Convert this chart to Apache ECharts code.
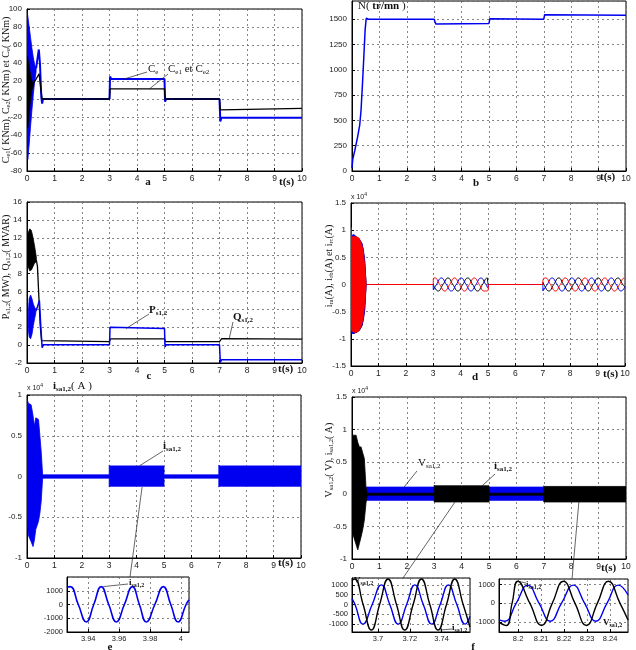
<!DOCTYPE html>
<html><head><meta charset="utf-8">
<script src="https://cdn.jsdelivr.net/npm/echarts@6/dist/echarts.min.js"></script>
<style>html,body{margin:0;padding:0;background:#fff}#c{width:636px;height:650px}</style>
</head><body><div id="c"></div>
<script>
// ================= DATA =================
// panel a : torques (kNm)
const aBlueBandT  = [0, 0.03, 0.08, 0.13, 0.18, 0.23, 0.28, 0.33];
const aBlueBandUp = [97, 92, 80, 68, 56, 46, 38, 34];
const aBlueBandLo = [-45, -67, -50, -30, -12, 5, 20, 30];
const aBlackBandT  = [0, 0.03, 0.08, 0.13, 0.18, 0.23];
const aBlackBandUp = [48, 45, 36, 26, 20, 17];
const aBlackBandLo = [-25, -32, -15, 0, 10, 15];
const aCe   = [[0.33,34],[0.43,55],[0.47,40],[0.52,2],[0.55,-5],[0.58,0],[3,0],[3.02,25],[3.06,22.3],[5,22.3],[5.02,-3],[5.06,0],[7,0],[7.03,-25],[7.07,-20.8],[10,-20.8]];
const aCe12 = [[0.23,17],[0.44,28],[0.5,12],[0.55,0],[3,0],[3.02,11.2],[5,11.2],[5.02,0],[7,0],[7.03,-12],[7.06,-10.4],[10,-10.4]];
// panel b : speed (tr/mn)
const bN = [[0,30],[0.03,120],[0.1,200],[0.2,330],[0.28,450],[0.33,600],[0.38,850],[0.43,1120],[0.48,1400],[0.52,1510],[0.56,1505],[0.6,1500],[3,1500],[3.03,1475],[3.06,1452],[3.1,1458],[5,1458],[5.03,1505],[5.06,1512],[5.1,1500],[7,1500],[7.03,1545],[7.06,1552],[7.1,1538],[10,1538]];
// panel c : powers
const cQBandT  = [0.0, 0.04, 0.1, 0.16, 0.22, 0.28, 0.34];
const cQBandUp = [11, 12.5, 13, 12.8, 12, 11, 9.8];
const cQBandLo = [10, 8.8, 8.3, 8.4, 8.8, 9.2, 9.3];
const cQ = [[0.34,9.5],[0.38,8.8],[0.43,5.5],[0.48,2.2],[0.53,0.5],[0.58,0.4],[3,0.4],[3.03,0.7],[5,0.7],[5.03,0.4],[7,0.4],[7.03,0.6],[7.08,0.72],[10,0.67]];
const cPBandT  = [0.04, 0.08, 0.13, 0.18, 0.23, 0.28, 0.32];
const cPBandUp = [3.2, 5.2, 5.6, 5.2, 4.6, 4.2, 4.0];
const cPBandLo = [2.0, 0.9, 0.7, 1.2, 2.2, 3.0, 3.6];
const cP = [[0.32,3.8],[0.38,4.3],[0.45,5],[0.5,2.2],[0.55,-0.3],[0.6,0.05],[3,0.05],[3.02,2],[3.06,1.85],[5,1.85],[5.02,-0.2],[5.06,0.05],[7,0.05],[7.03,-1.95],[7.07,-1.65],[10,-1.65]];
// panel d : rotor currents (x 10^4 A)
const dBandT     = [0, 0.02, 0.1, 0.2, 0.3, 0.4, 0.45, 0.5, 0.55];
const dRedUp     = [1.05, 0.88, 0.88, 0.88, 0.85, 0.72, 0.6, 0.35, 0.02];
const dRedLo     = [-0.6, -0.85, -0.88, -0.88, -0.85, -0.72, -0.6, -0.35, -0.02];
const dBlackUp   = [0.8, 0.9, 0.9, 0.86, 0.82, 0.74, 0.62, 0.42, 0.02];
const dBlackLo   = [-0.8, -0.88, -0.9, -0.88, -0.85, -0.76, -0.64, -0.45, -0.02];
const dBlueUp    = [0.8, 0.9, 0.92, 0.88, 0.84, 0.76, 0.64, 0.45, 0.02];
const dBlueLo    = [-0.8, -0.9, -0.9, -0.88, -0.84, -0.76, -0.64, -0.48, -0.02];
const dIra = [[0.55,0],[3,0],[3.005,0.11],[3.06,0.12],[3.24,0],[3.42,-0.12],[3.6,0],[3.78,0.12],[3.96,0],[4.14,-0.12],[4.32,0],[4.5,0.12],[4.68,0],[4.86,-0.12],[5,-0.11],[5.02,0],[7,0],[7.005,0.08],[7.1,0.12],[7.28,0],[7.46,-0.12],[7.64,0],[7.82,0.12],[8,0],[8.18,-0.12],[8.36,0],[8.54,0.12],[8.72,0],[8.9,-0.12],[9.08,0],[9.26,0.12],[9.44,0],[9.62,-0.12],[9.8,0],[9.98,0.12],[10,0.12]];
const dIrb = [[0.55,0],[3,0],[3.005,-0.1],[3.12,0],[3.3,0.12],[3.48,0],[3.66,-0.12],[3.84,0],[4.02,0.12],[4.2,0],[4.38,-0.12],[4.56,0],[4.74,0.12],[4.92,0],[5,-0.06],[5.02,0],[7,0],[7.005,-0.12],[7.16,0],[7.34,0.12],[7.52,0],[7.7,-0.12],[7.88,0],[8.06,0.12],[8.24,0],[8.42,-0.12],[8.6,0],[8.78,0.12],[8.96,0],[9.14,-0.12],[9.32,0],[9.5,0.12],[9.68,0],[9.86,-0.12],[10,-0.04]];
const dIrc = [[0.55,0],[3,0],[3.005,0],[3.18,-0.12],[3.36,0],[3.54,0.12],[3.72,0],[3.9,-0.12],[4.08,0],[4.26,0.12],[4.44,0],[4.62,-0.12],[4.8,0],[4.98,0.12],[5,0.12],[5.02,0],[7,0],[7.005,0.04],[7.04,0],[7.22,-0.12],[7.4,0],[7.58,0.12],[7.76,0],[7.94,-0.12],[8.12,0],[8.3,0.12],[8.48,0],[8.66,-0.12],[8.84,0],[9.02,0.12],[9.2,0],[9.38,-0.12],[9.56,0],[9.74,0.12],[9.92,0],[10,-0.05]];
// panel e : stator current envelope (x 10^4 A)
const eBandT  = [0, 0.05, 0.15, 0.22, 0.27, 0.32, 0.42, 0.47, 0.52, 0.57, 3, 3, 3.03, 3.1, 5, 5, 5.03, 7, 7, 7.03, 7.1, 10];
const eBandUp = [0.95, 0.9, 0.88, 0.75, 0.62, 0.72, 0.7, 0.5, 0.3, 0.02, 0.02, 0.14, 0.13, 0.13, 0.13, 0.02, 0.02, 0.02, 0.14, 0.13, 0.13, 0.13];
const eBandLo = [-0.5, -0.72, -0.8, -0.86, -0.78, -0.65, -0.55, -0.45, -0.3, -0.02, -0.02, -0.13, -0.12, -0.12, -0.12, -0.02, -0.02, -0.02, -0.13, -0.12, -0.12, -0.12];
// panel f : stator voltage (blue) and current (black) envelopes (x 10^4)
const fIBandT  = [0, 0.02, 0.15, 0.21, 0.27, 0.33, 0.39, 0.45, 0.51, 0.55, 3, 3, 3.02, 5, 5, 7, 7, 7.02, 10];
const fIBandUp = [0.85, 0.91, 0.91, 0.8, 0.73, 0.73, 0.64, 0.55, 0.11, 0.015, 0.015, 0.14, 0.13, 0.13, 0.015, 0.015, 0.13, 0.12, 0.12];
const fIBandLo = [-0.5, -0.6, -0.78, -0.86, -0.76, -0.66, -0.55, -0.4, -0.14, -0.015, -0.015, -0.12, -0.12, -0.12, -0.015, -0.015, -0.12, -0.12, -0.12];
const fVBandT  = [0.5, 0.52, 3, 3, 5, 5, 7, 7];
const fVBandUp = [0.02, 0.11, 0.11, 0, 0, 0.11, 0.11, 0];
const fVBandLo = [-0.02, -0.095, -0.095, 0, 0, -0.095, -0.095, 0];
// inset e : i_sa1,2 zoom (A)
const eInI = [[3.9263,1250],[3.9284,1300],[3.9336,0],[3.9388,-1270],[3.9436,0],[3.9484,1300],[3.9533,0],[3.9582,-1270],[3.9634,0],[3.9686,1300],[3.9731,0],[3.9776,-1270],[3.9831,0],[3.9886,1300],[3.9934,0],[3.9981,-1270],[4.0033,0],[4.0052,350]];
// inset f left : V (blue) and i (black)
const fLV = [[3.6836,300],[3.6855,0],[3.6905,-1000],[3.6963,0],[3.7021,1000],[3.7074,0],[3.7127,-1000],[3.718,0],[3.7232,1000],[3.7285,0],[3.7338,-1000],[3.7391,0],[3.7443,1000],[3.7496,0],[3.7549,-1000],[3.7579,-600]];
const fLI = [[3.6836,1220],[3.6853,1300],[3.6906,0],[3.6958,-1300],[3.701,0],[3.7063,1300],[3.7116,0],[3.7168,-1300],[3.7221,0],[3.7273,1300],[3.7326,0],[3.7378,-1300],[3.7431,0],[3.7483,1300],[3.7536,0],[3.7579,-1150]];
// inset f right
const fRV = [[8.1917,-900],[8.1942,-970],[8.1992,0],[8.2042,970],[8.2091,0],[8.214,-970],[8.2189,0],[8.224,970],[8.2289,0],[8.2338,-970],[8.2387,0],[8.2436,970],[8.2478,450]];
const fRI = [[8.1917,-1030],[8.1949,-1200],[8.1974,0],[8.1999,1180],[8.2051,0],[8.2102,-1200],[8.2149,0],[8.2197,1180],[8.2247,0],[8.2297,-1200],[8.2345,0],[8.2393,1180],[8.2443,0],[8.2478,-900]];

// ================= CHART =================
const BLUE = '#0000f0', BLACK = '#000', RED = '#ff0000';
const chart = echarts.init(document.getElementById('c'), null, {renderer: 'canvas'});
const grids = [
  {left:27, top:9, width:275, height:162},
  {left:352, top:1, width:274, height:170},
  {left:27, top:202, width:275, height:161},
  {left:351, top:203, width:274, height:163},
  {left:27, top:395, width:274, height:163},
  {left:352, top:397, width:274, height:162},
  {left:67, top:577, width:122, height:55},
  {left:352, top:578, width:118, height:54},
  {left:499, top:579, width:129, height:53}
].map(g => Object.assign({show:true, borderColor:'#000', borderWidth:1, backgroundColor:'#fff', containLabel:false}, g));

const split = {show:true, lineStyle:{type:[2,3], color:'#666', width:0.8}};
const plain = v => String(+(+v).toFixed(4));
const lab = (fs, extra) => Object.assign({fontSize:fs, color:'#222', fontFamily:'Liberation Sans', margin:4, formatter:plain}, extra||{});
function ax(i, o) {
  return Object.assign({type:'value', gridIndex:i, axisLine:{show:true, onZero:false, lineStyle:{color:'#000'}},
    axisTick:{show:true, inside:true, length:3, lineStyle:{color:'#000'}}, splitLine:split}, o);
}
const xLab = lab(8.5, {margin:3});
const yLab = lab(8, {margin:5});
const xAxes = [0,1,2,3,4,5].map(i => ax(i, {min:0, max:10, interval:1, axisLabel:xLab}));
xAxes.push(ax(6, {min:3.9263, max:4.0052, splitNumber:4, axisLabel:lab(7.5, {showMinLabel:false, showMaxLabel:false, margin:3})}));
xAxes.push(ax(7, {min:3.6836, max:3.7579, splitNumber:4, axisLabel:lab(7.5, {showMinLabel:false, showMaxLabel:false, margin:3})}));
xAxes.push(ax(8, {min:8.1917, max:8.2478, splitNumber:5, axisLabel:lab(7.5, {showMinLabel:false, showMaxLabel:false, margin:3})}));
const yAxes = [
  ax(0, {min:-80, max:100, interval:20, axisLabel:yLab}),
  ax(1, {min:0, max:1680, interval:250, axisLabel:lab(8, {margin:5, showMaxLabel:false})}),
  ax(2, {min:-2, max:16, interval:2, axisLabel:yLab}),
  ax(3, {min:-1.5, max:1.5, interval:0.5, axisLabel:yLab}),
  ax(4, {min:-1, max:1, interval:0.5, axisLabel:yLab}),
  ax(5, {min:-1, max:1.5, interval:0.5, axisLabel:yLab}),
  ax(6, {min:-2000, max:2000, interval:1000, axisLabel:lab(7.5, {showMaxLabel:false, margin:4})}),
  ax(7, {min:-1400, max:1350, splitNumber:5, axisLabel:lab(7.5, {showMinLabel:false, showMaxLabel:false, margin:4})}),
  ax(8, {min:-1550, max:1300, splitNumber:3, axisLabel:lab(7.5, {showMinLabel:false, showMaxLabel:false, margin:4})})
];

const series = [];
// envelope of a dense oscillation: filled polygon between upper and lower values
function band(g, T, up, lo, color, z) {
  const data = T.map((t, i) => [t, up[i], lo[i]]);
  series.push({type:'custom', xAxisIndex:g, yAxisIndex:g, data, z, silent:true, clip:true,
    encode:{x:0, y:[1,2]},
    renderItem:(params, api) => {
      if (params.dataIndex !== 0) return null;
      const pts = [];
      for (let i = 0; i < T.length; i++) pts.push(api.coord([T[i], up[i]]));
      for (let i = T.length - 1; i >= 0; i--) pts.push(api.coord([T[i], lo[i]]));
      return {type:'polygon', shape:{points:pts}, style:{fill:color, stroke:color, lineWidth:0.8}};
    }});
}
function line(g, data, color, w, z, smooth) {
  series.push({type:'line', xAxisIndex:g, yAxisIndex:g, data, symbol:'none', smooth:smooth||false, lineStyle:{width:w, color}, z, silent:true});
}
// a
band(0, aBlueBandT, aBlueBandUp, aBlueBandLo, BLUE, 2);
line(0, aCe, BLUE, 2, 3);
band(0, aBlackBandT, aBlackBandUp, aBlackBandLo, BLACK, 4);
line(0, aCe12, BLACK, 1.3, 5);
// b
line(1, bN, BLUE, 1.5, 3);
// c
band(2, cQBandT, cQBandUp, cQBandLo, BLACK, 2);
line(2, cQ, BLACK, 1.3, 3);
band(2, cPBandT, cPBandUp, cPBandLo, BLUE, 4);
line(2, cP, BLUE, 1.5, 5);
// d
band(3, dBandT, dBlackUp, dBlackLo, BLACK, 2);
band(3, dBandT, dBlueUp, dBlueLo, BLUE, 3);
band(3, dBandT, dRedUp, dRedLo, RED, 4);
line(3, dIrc, BLACK, 1, 5, 0.5);
line(3, dIrb, BLUE, 1, 6, 0.5);
line(3, dIra, RED, 1, 7, 0.5);
// e
band(4, eBandT, eBandUp, eBandLo, BLUE, 3);
// f
band(5, fVBandT, fVBandUp, fVBandLo, BLUE, 2);
band(5, fIBandT, fIBandUp, fIBandLo, BLACK, 3);
// insets
line(6, eInI, BLUE, 1.6, 3, 0.5);
line(7, fLV, BLUE, 1.4, 3, 0.5);
line(7, fLI, BLACK, 1.4, 4, 0.5);
line(8, fRV, BLUE, 1.4, 3, 0.5);
line(8, fRI, BLACK, 1.4, 4, 0.5);

chart.setOption({animation:false, backgroundColor:'#fff', grid:grids, xAxis:xAxes, yAxis:yAxes, series});

// ================= ANNOTATIONS =================
const SERIF = 'Liberation Serif';
const RICH = {
  n:{fontFamily:SERIF, fontSize:11, fill:'#111'},
  s:{fontFamily:SERIF, fontSize:7, fill:'#111', padding:[6,0,0,0]},
  t:{fontFamily:SERIF, fontSize:10, fill:'#111'},
  ts:{fontFamily:SERIF, fontSize:6.5, fill:'#111', padding:[5,0,0,0]},
  nb:{fontFamily:SERIF, fontSize:11, fontWeight:'bold', fill:'#111'},
  sb:{fontFamily:SERIF, fontSize:7, fontWeight:'bold', fill:'#111', padding:[6,0,0,0]},
  m:{fontFamily:SERIF, fontSize:9, fontWeight:'bold', fill:'#111'},
  ms:{fontFamily:SERIF, fontSize:6, fontWeight:'bold', fill:'#111', padding:[5,0,0,0]},
  x:{fontFamily:'Liberation Sans', fontSize:7, fill:'#222'},
  sup:{fontFamily:'Liberation Sans', fontSize:5, fill:'#222', padding:[0,0,5,0]}
};
const gr = [];
function T(x, y, text, align, rot) {
  gr.push({type:'text', x, y, rotation:rot||0, z:100,
    style:{text, rich:RICH, align:align||'left', verticalAlign:'middle', fill:'#111', fontFamily:SERIF, fontSize:11}});
}
function L(p1, p2) {
  gr.push({type:'line', z:100, shape:{x1:p1[0], y1:p1[1], x2:p2[0], y2:p2[1]}, style:{stroke:'#222', lineWidth:0.7}});
}
const P = (g, x, y) => chart.convertToPixel({gridIndex:g}, [x, y]);
// leader lines
L(P(0,3.53,22.2), [147,72]);
L(P(0,4.45,11.2), [168,74]);
L(P(2,3.6,1.85), [149,314]);
L(P(2,7.35,0.68), [233,322]);
L(P(4,4.1,0.13), [163,451]);
L(P(4,4.2,-0.13), [130,577]);
L(P(6,3.9497,1300), [128,584]);
L(P(5,1.9,0.11), [417,471]);
L(P(5,4.75,0.13), [495,474]);
L(P(5,3.76,-0.12), [403,578]);
L(P(5,8.28,-0.12), [572,579]);
L(P(7,3.739,-1300), [452,629]);
L(P(8,8.1999,1180), [526,583]);
// labels
T(148, 69, '{n|C}{s|e}');
T(168, 69, '{n|C}{s|e1}{n| et C}{s|e2}');
T(149, 310, '{nb|P}{sb|s1,2}');
T(233, 317, '{nb|Q}{sb|s1,2}');
T(163, 446, '{nb|i}{sb|sa1,2}');
T(129, 583, '{m|i}{ms|sa1,2}');
T(418, 463, '{n|V}{s|sa1,2}');
T(494, 466, '{nb|i}{sb|sa1,2}');
T(354, 581, '{m|V}{ms|sa1,2}');
T(452, 628, '{m|i}{ms|sa1,2}');
T(526, 585, '{m|i}{ms|sa1,2}');
T(603, 623, '{m|V}{ms|sa1,2}');
// axis titles
T(6, 90, '{t|C}{ts|e1}{t|( KNm), C}{ts|e2}{t|( KNm) et C}{ts|e}{t|( KNm)}', 'center', Math.PI/2);
T(6, 267, '{t|P}{ts|s1,2}{t|( MW), Q}{ts|s1,2}{t|( MVAR)}', 'center', Math.PI/2);
T(329, 266, '{t|i}{ts|ra}{t|(A), i}{ts|rb}{t|(A) et i}{ts|rc}{t|(A)}', 'center', Math.PI/2);
T(329, 460, '{t|V}{ts|sa1,2}{t|( V), i}{ts|sa1,2}{t|( A)}', 'center', Math.PI/2);
T(358, 6, '{n|N( }{nb|tr/mn}{n| )}');
T(53, 386, '{nb|i}{sb|sa1,2}{n|( A )}');
T(351, 197, '{x|x 10}{sup|4}');
T(27, 388, '{x|x 10}{sup|4}');
T(352, 391, '{x|x 10}{sup|4}');
// t(s)
[[279,182],[600,177],[278,369],[603,374],[278,563],[601,568]].forEach(p => T(p[0], p[1], '{nb|t(s)}'));
// panel letters
[['a',148,182],['b',476,183],['c',149,376],['d',475,377],['e',110,647],['f',473,647]].forEach(p => T(p[1], p[2], '{nb|' + p[0] + '}', 'center'));
chart.setOption({graphic: gr});
</script></body></html>
